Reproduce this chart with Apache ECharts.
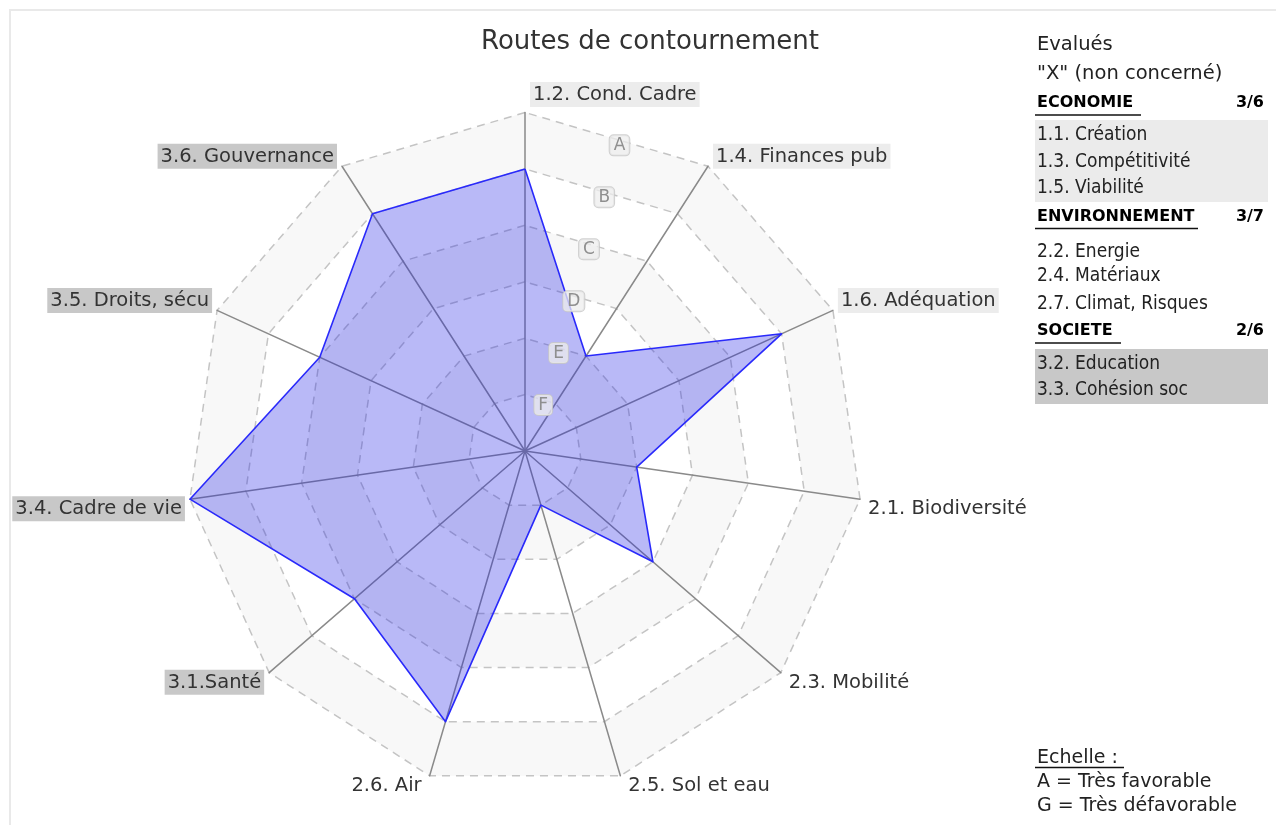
<!DOCTYPE html>
<html>
<head>
<meta charset="utf-8">
<script src="https://cdn.jsdelivr.net/npm/echarts@6/dist/echarts.min.js"></script>
<style>
  html, body { margin: 0; padding: 0; background: #fff; overflow: hidden; }
  #frame { position: absolute; left: 9px; top: 9px; width: 1400px; height: 1000px; border: 2px solid #e9e9e9; box-sizing: border-box; }
  #chart { position: absolute; left: 0; top: 0; width: 1276px; height: 825px; }
</style>
</head>
<body>
<div id="frame"></div>
<div id="chart"></div>
<script>
// ---- data (clockwise from the top, as read on the chart) ----
const categories = ['1.2. Cond. Cadre', '1.4. Finances pub', '1.6. Adéquation', '2.1. Biodiversité', '2.3. Mobilité',
  '2.5. Sol et eau', '2.6. Air', '3.1.Santé', '3.4. Cadre de vie', '3.5. Droits, sécu', '3.6. Gouvernance'];
const categoryGroups = ['eco', 'eco', 'eco', 'env', 'env', 'env', 'env', 'soc', 'soc', 'soc', 'soc'];
// score on the A..G scale: 6 = A, 5 = B, 4 = C, 3 = D, 2 = E, 1 = F, 0 = G
const values = [5, 2, 5, 2, 3, 1, 5, 4, 6, 4, 5];
const gradeLabels = ['', 'F', 'E', 'D', 'C', 'B', 'A'];
const seriesName = 'Routes de contournement';
const titleText = 'Routes de contournement';

const headerLines = ['Evalués', '"X" (non concerné)'];
const ecoTitle = 'ECONOMIE', ecoCount = '3/6';
const ecoItems = ['1.1. Création', '1.3. Compétitivité', '1.5. Viabilité'];
const envTitle = 'ENVIRONNEMENT', envCount = '3/7';
const envItems = ['2.2. Energie', '2.4. Matériaux', '2.7. Climat, Risques'];
const socTitle = 'SOCIETE', socCount = '2/6';
const socItems = ['3.2. Education', '3.3. Cohésion soc'];
const scaleTitle = 'Echelle :';
const scaleLines = ['A = Très favorable', 'G = Très défavorable'];

// ---- build ----
const N = categories.length;
const MAXV = gradeLabels.length - 1;
// ECharts radar places indicators counter-clockwise, so reverse all but the first
const order = [0].concat(categories.map((_, i) => i).slice(1).reverse());
const indicators = order.map(i => ({ name: categories[i], min: 0, max: MAXV }));
const orderedValues = order.map(i => values[i]);

const FONT = 'DejaVu Sans';
const COND = '"DejaVu Sans Condensed", "DejaVu Sans"';
const CX = 525, CY = 451, R = 338.5;
const chart = echarts.init(document.getElementById('chart'), null, { renderer: 'canvas' });

// axis names, placed at the outer end of each axis through a polar system matching the radar
const nameData = categories.map((c, i) => {
  const a = i * 2 * Math.PI / N;
  const s = Math.sin(a), co = Math.cos(a);
  const right = s >= -1e-6;
  const dy = co > 0.99 ? -18 : (co > 0 ? -10 : 9.5);
  return {
    value: [MAXV, i],
    label: {
      position: [right ? 5 : -5, dy],
      align: right ? 'left' : 'right',
      verticalAlign: 'middle',
      formatter: '{' + categoryGroups[i] + '|' + c + '}'
    }
  };
});

function txt(x, y, text, opts) {
  opts = opts || {};
  return {
    type: 'text', x: x, y: y, silent: true,
    style: {
      text: text,
      font: opts.font || ('19px ' + COND),
      fill: opts.fill || '#222',
      textAlign: opts.align || 'left', align: opts.align || 'left',
      textVerticalAlign: 'middle', verticalAlign: 'middle'
    }
  };
}
function uline(x1, x2, y) {
  return { type: 'line', silent: true, shape: { x1: x1, y1: y, x2: x2, y2: y }, style: { stroke: '#111', lineWidth: 1.5 } };
}
function box(x, y, w, h, fill) {
  return { type: 'rect', silent: true, shape: { x: x, y: y, width: w, height: h }, style: { fill: fill } };
}
const HFONT = 'bold 16px ' + FONT;
const graphics = [];
graphics.push(txt(1037, 45, headerLines[0], { font: '19.5px ' + FONT }));
graphics.push(txt(1037, 74, headerLines[1], { font: '19.5px ' + FONT }));
graphics.push(txt(1037, 103, ecoTitle, { font: HFONT, fill: '#000' }));
graphics.push(txt(1264, 103, ecoCount, { font: HFONT, fill: '#000', align: 'right' }));
graphics.push(uline(1035, 1141, 115));
graphics.push(box(1035, 120, 233, 82, '#ebebeb'));
[135, 162, 188].forEach((y, i) => graphics.push(txt(1037, y, ecoItems[i])));
graphics.push(txt(1037, 217, envTitle, { font: HFONT, fill: '#000' }));
graphics.push(txt(1264, 217, envCount, { font: HFONT, fill: '#000', align: 'right' }));
graphics.push(uline(1035, 1198, 228.5));
[252, 276, 304].forEach((y, i) => graphics.push(txt(1037, y, envItems[i])));
graphics.push(txt(1037, 331, socTitle, { font: HFONT, fill: '#000' }));
graphics.push(txt(1264, 331, socCount, { font: HFONT, fill: '#000', align: 'right' }));
graphics.push(uline(1035, 1121, 343));
graphics.push(box(1035, 349, 233, 55, '#c8c8c8'));
[364, 390].forEach((y, i) => graphics.push(txt(1037, y, socItems[i])));
graphics.push(txt(1037, 758, scaleTitle, { font: '19px ' + FONT }));
graphics.push(uline(1035, 1124, 767.5));
graphics.push(txt(1037, 782, scaleLines[0], { font: '19px ' + FONT }));
graphics.push(txt(1037, 806, scaleLines[1], { font: '19px ' + FONT }));

const richBase = { fontFamily: FONT, fontSize: 19.5, color: '#333', padding: [3, 3, 2, 3], opacity: 1 };
const hiddenAngle = { show: false, axisLine: { show: false }, splitLine: { show: false }, axisLabel: { show: false }, axisTick: { show: false } };
const option = {
  backgroundColor: 'transparent',
  animation: false,
  title: {
    text: titleText, left: 645, top: 24, textAlign: 'center',
    textStyle: { fontFamily: FONT, fontSize: 26, fontWeight: 'normal', color: '#333' }
  },
  radar: {
    center: [CX, CY],
    radius: R,
    startAngle: 90,
    shape: 'polygon',
    splitNumber: MAXV,
    indicator: indicators,
    axisName: { show: false },
    axisLine: { lineStyle: { color: '#8a8a8a', width: 1.5 } },
    splitLine: { lineStyle: { color: '#c4c4c4', width: 1.5, type: [8, 6] } },
    splitArea: { show: true, areaStyle: { color: ['#ffffff', '#f8f8f8', '#ffffff', '#f8f8f8', '#ffffff', '#f8f8f8'] } }
  },
  polar: [
    { center: [CX + 3, CY + 6], radius: R * Math.cos(Math.PI / N) },
    { center: [CX, CY], radius: R }
  ],
  angleAxis: [
    Object.assign({ polarIndex: 0, type: 'value', min: 0, max: 360, startAngle: 90 - 180 / N }, hiddenAngle),
    Object.assign({ polarIndex: 1, type: 'value', min: 0, max: N, startAngle: 90, clockwise: true }, hiddenAngle)
  ],
  radiusAxis: [{
    polarIndex: 0, type: 'value', min: 0, max: MAXV, interval: 1, z: 10,
    axisLine: { show: false }, axisTick: { show: false }, splitLine: { show: false },
    axisLabel: {
      show: true, margin: 0, align: 'center', verticalAlign: 'middle',
      formatter: function (v) { return gradeLabels[v] ? '{g|' + gradeLabels[v] + '}' : ''; },
      rich: {
        g: {
          color: '#8f8f8f', fontFamily: FONT, fontSize: 17,
          backgroundColor: 'rgba(238,238,238,0.75)', borderColor: 'rgba(200,200,200,0.85)', borderWidth: 1,
          borderRadius: 4, padding: [2, 4, 1, 4]
        }
      }
    }
  }, {
    polarIndex: 1, type: 'value', min: 0, max: MAXV, show: false,
    axisLine: { show: false }, axisTick: { show: false }, splitLine: { show: false }, axisLabel: { show: false }
  }],
  series: [{
    type: 'radar',
    name: seriesName,
    symbol: 'none',
    lineStyle: { color: '#2b2bff', width: 1.6 },
    areaStyle: { color: 'rgba(36,36,230,0.32)', opacity: 1 },
    data: [{ value: orderedValues, name: seriesName }],
    z: 3
  }, {
    type: 'scatter',
    coordinateSystem: 'polar',
    polarIndex: 1,
    symbolSize: 0.01,
    silent: true,
    itemStyle: { color: '#333', opacity: 0 },
    label: {
      show: true,
      color: '#333',
      opacity: 1,
      fontFamily: FONT,
      fontSize: 19.5,
      rich: {
        eco: Object.assign({}, richBase, { backgroundColor: '#ececec' }),
        env: Object.assign({}, richBase),
        soc: Object.assign({}, richBase, { backgroundColor: '#c8c8c8' })
      }
    },
    data: nameData,
    z: 5
  }],
  graphic: graphics
};
chart.setOption(option);
</script>
</body>
</html>
